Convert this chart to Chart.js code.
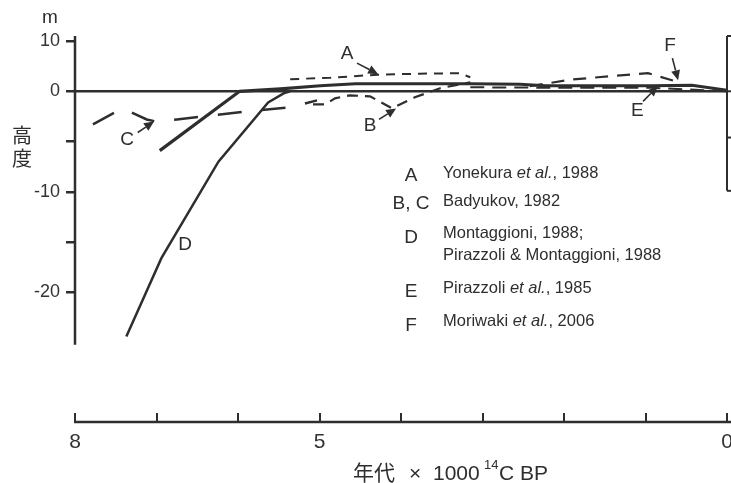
<!DOCTYPE html>
<html>
<head>
<meta charset="utf-8">
<script src="https://cdn.jsdelivr.net/npm/chart.js@4.4.1/dist/chart.umd.min.js"></script>
<style>
  html, body { margin: 0; padding: 0; background: #fff; overflow: hidden; }
  #wrap { position: relative; width: 760px; height: 483px; }
</style>
</head>
<body>
<div id="wrap"><canvas id="sea" width="760" height="483"></canvas></div>
<script>
// age in 1000 14C yr BP, height in m
const zeroAge = [8, 0];
const zeroHt = [0, 0];

const ageA = [5.36, 4.87, 4.29, 3.77, 3.28, 3.15];
const htA = [2.4, 2.7, 3.3, 3.5, 3.6, 2.8];

const ageB = [5.08, 4.93, 4.81, 4.63, 4.38, 4.11, 3.83, 3.52, 3.15];
const htB = [-1.3, -1.3, -0.7, -0.4, -0.5, -1.7, -0.6, 0.6, 1.8];

const ageC = [7.78, 7.42, 7.12, 7.01, 6.75, 5.89, 5.36, 5.03];
const htC = [-3.3, -1.7, -2.8, -3.0, -2.8, -2.0, -1.6, -0.9];

const ageD = [7.37, 6.94, 6.24, 5.63, 5.44, 5.36];
const htD = [-24.4, -16.6, -7.0, -1.1, -0.2, 0];

const ageE = [6.96, 5.98, 5.48, 4.99, 4.56, 3.15, 2.54, 2.23, 0.94, 0.43, 0];
const htE = [-5.9, 0, 0.5, 1.1, 1.5, 1.5, 1.4, 1.1, 1.1, 1.2, 0.2];

const ageE2 = [3.15, 2.05, 0.94, 0];
const htE2 = [0.8, 0.7, 0.7, 0];

const ageF = [2.42, 1.93, 1.44, 0.97, 0.63];
const htF = [1.0, 2.3, 3.0, 3.6, 2.0];

// letters on the plot with their arrows
const noteKeys = ['A', 'B', 'C', 'D', 'E', 'F'];
const noteAge = [4.66, 4.38, 7.36, 6.65, 1.10, 0.70];
const noteHt = [7.4, -3.4, -4.8, -15.3, -1.9, 9.0];
const arrowKeys = ['A', 'B', 'C', 'E', 'F'];
const arrowFromAge = [4.54, 4.27, 7.23, 1.03, 0.67];
const arrowFromHt = [5.6, -2.8, -4.1, -1.0, 6.6];
const arrowToAge = [4.28, 4.06, 7.03, 0.85, 0.60];
const arrowToHt = [3.4, -1.7, -3.0, 1.0, 2.2];

// legend text
const legendKeys = ['A', 'B, C', 'D', 'E', 'F'];
const legendRefs = [
  [[['Yonekura ', false], ['et al.', true], [', 1988', false]]],
  [[['Badyukov, 1982', false]]],
  [[['Montaggioni, 1988;', false]], [['Pirazzoli & Montaggioni, 1988', false]]],
  [[['Pirazzoli ', false], ['et al.', true], [', 1985', false]]],
  [[['Moriwaki ', false], ['et al.', true], [', 2006', false]]],
];

const yTicks = [10, 0, -5, -10, -15, -20];
const yLabelled = [10, 0, -10, -20];
const xLabelled = [8, 5, 0];

const ink = '#2e2e2e';
const sans = '"Liberation Sans", Arial, sans-serif';
const cjk = '"Noto Sans CJK JP", "Noto Sans CJK SC", sans-serif';

// heights above 0 are drawn at half scale, as in the original figure
class HeightScale extends Chart.LinearScale {
  getPixelForValue(v) {
    return super.getPixelForValue(v > 0 ? v / 2 : v);
  }
  getValueForPixel(p) {
    const u = super.getValueForPixel(p);
    return u > 0 ? u * 2 : u;
  }
}
HeightScale.id = 'height';
HeightScale.defaults = Chart.LinearScale.defaults;
Chart.register(HeightScale);

const pts = (ages, hts) => ages.map((a, i) => ({ x: a, y: hts[i] }));

const line = (label, ages, hts, width, dash) => ({
  label: label,
  data: pts(ages, hts),
  borderColor: ink,
  borderWidth: width,
  borderDash: dash,
  pointRadius: 0,
  tension: 0,
  fill: false,
});

const decor = {
  id: 'decor',
  afterDraw(chart) {
    const { ctx, chartArea: ca } = chart;
    const x = chart.scales.x, y = chart.scales.y;
    const seg = (x1, y1, x2, y2) => {
      ctx.beginPath(); ctx.moveTo(x1, y1); ctx.lineTo(x2, y2); ctx.stroke();
    };
    ctx.save();
    ctx.strokeStyle = ink;
    ctx.fillStyle = ink;
    ctx.lineCap = 'butt';

    // left axis line, stops at -25 m
    ctx.lineWidth = 2.5;
    seg(ca.left, ca.top, ca.left, y.getPixelForValue(-25.2));

    // cut-off frame of the next panel on the right
    const rx = x.getPixelForValue(0);
    const rb = y.getPixelForValue(-9.9);
    ctx.lineWidth = 2;
    seg(rx, ca.top, rx, rb);
    seg(rx, ca.top, rx + 20, ca.top);
    seg(rx, rb, rx + 20, rb);
    seg(rx, y.getPixelForValue(-4.6), rx + 20, y.getPixelForValue(-4.6));
    seg(rx, y.getPixelForValue(0), rx + 20, y.getPixelForValue(0));

    // bottom time axis line
    const by = ca.bottom + 9;
    ctx.lineWidth = 2.5;
    seg(ca.left - 1, by, rx + 4, by);

    // axis texts
    ctx.textAlign = 'center';
    ctx.textBaseline = 'alphabetic';
    ctx.font = '19px ' + sans;
    ctx.fillText('m', ca.left - 25, 23);
    ctx.font = '20px ' + cjk;
    ctx.textBaseline = 'middle';
    ctx.fillText('高', ca.left - 53, 135);
    ctx.fillText('度', ca.left - 53, 158);

    ctx.textAlign = 'left';
    ctx.textBaseline = 'alphabetic';
    ctx.font = '21px ' + cjk;
    ctx.fillText('年代', 353, 480);
    ctx.font = '21px ' + sans;
    ctx.fillText('×', 409, 480);
    ctx.fillText('1000', 433, 480);
    ctx.font = '13px ' + sans;
    ctx.fillText('14', 484, 469);
    ctx.font = '21px ' + sans;
    ctx.fillText('C BP', 499, 480);

    // letters on the curves
    ctx.textAlign = 'center';
    ctx.textBaseline = 'middle';
    ctx.font = '19px ' + sans;
    noteKeys.forEach((k, i) => {
      ctx.fillText(k, x.getPixelForValue(noteAge[i]), y.getPixelForValue(noteHt[i]));
    });

    // arrows
    arrowKeys.forEach((k, i) => {
      const x1 = x.getPixelForValue(arrowFromAge[i]), y1 = y.getPixelForValue(arrowFromHt[i]);
      const x2 = x.getPixelForValue(arrowToAge[i]), y2 = y.getPixelForValue(arrowToHt[i]);
      const ang = Math.atan2(y2 - y1, x2 - x1);
      const hl = 10, hw = 4.5;
      const bx = x2 - hl * Math.cos(ang), byy = y2 - hl * Math.sin(ang);
      ctx.lineWidth = 1.6;
      seg(x1, y1, bx, byy);
      ctx.beginPath();
      ctx.moveTo(x2, y2);
      ctx.lineTo(bx + hw * Math.sin(ang), byy - hw * Math.cos(ang));
      ctx.lineTo(bx - hw * Math.sin(ang), byy + hw * Math.cos(ang));
      ctx.closePath();
      ctx.fill();
    });

    // legend block
    const keyX = ca.left + 336, textX = ca.left + 368;
    const keyBase = [181, 209, 243, 297, 331];
    const textBase = [178, 206, 238, 293, 326];
    ctx.textBaseline = 'alphabetic';
    legendKeys.forEach((k, i) => {
      ctx.textAlign = 'center';
      ctx.font = '19px ' + sans;
      ctx.fillText(k, keyX, keyBase[i]);
      ctx.textAlign = 'left';
      legendRefs[i].forEach((row, j) => {
        let tx = textX;
        row.forEach(([t, it]) => {
          ctx.font = (it ? 'italic ' : '') + '16.5px ' + sans;
          ctx.fillText(t, tx, textBase[i] + j * 22);
          tx += ctx.measureText(t).width;
        });
      });
    });
    ctx.restore();
  }
};

new Chart(document.getElementById('sea'), {
  type: 'line',
  data: {
    datasets: [
      line('0 m', zeroAge, zeroHt, 2.5, []),
      line('A', ageA, htA, 2, [9, 7]),
      line('B', ageB, htB, 2.2, [11, 7]),
      line('C', ageC, htC, 2.5, [24, 20]),
      line('D', ageD, htD, 2.5, []),
      line('E', ageE, htE, 3.2, []),
      line('E', ageE2, htE2, 2, [14, 8]),
      line('F', ageF, htF, 2.2, [13, 9]),
    ],
  },
  options: {
    responsive: false,
    animation: false,
    layout: { padding: { top: 36, right: 33, bottom: 0, left: 0 } },
    plugins: {
      legend: { display: false },
      tooltip: { enabled: false },
    },
    scales: {
      x: {
        type: 'linear',
        reverse: true,
        min: 0,
        max: 8,
        border: { display: false },
        grid: { drawOnChartArea: false, tickLength: 9, color: ink, lineWidth: 2 },
        ticks: {
          stepSize: 1,
          autoSkip: false,
          maxRotation: 0,
          padding: 8,
          color: '#333',
          font: { family: sans, size: 21 },
          callback: (v) => (xLabelled.includes(v) ? String(v) : ''),
        },
        afterFit: (s) => { s.height = 70; },
      },
      y: {
        type: 'height',
        position: 'left',
        min: -32.0,
        max: 5.5,
        bounds: 'data',
        border: { display: false },
        grid: { drawOnChartArea: false, tickLength: 9, color: ink, lineWidth: 2.5 },
        afterBuildTicks: (s) => { s.ticks = yTicks.map((v) => ({ value: v })); },
        ticks: {
          padding: 6,
          color: '#333',
          font: { family: sans, size: 18 },
          callback: (v) => (yLabelled.includes(v) ? String(v) : ''),
        },
        afterFit: (s) => { s.width = 75; },
      },
    },
  },
  plugins: [decor],
});
</script>
</body>
</html>
